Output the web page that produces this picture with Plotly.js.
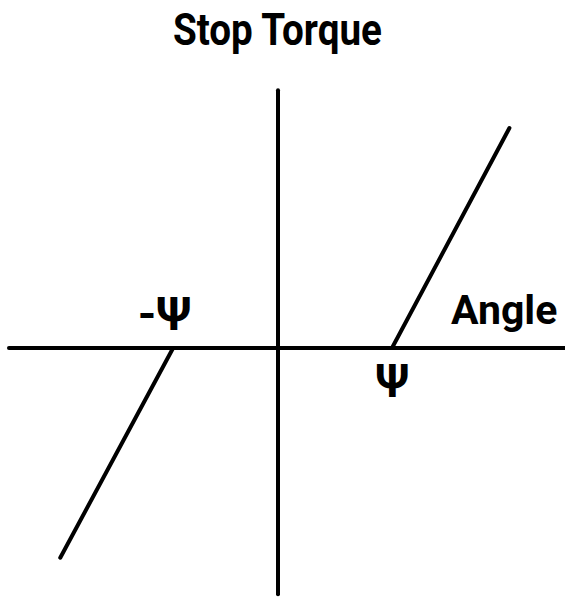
<!DOCTYPE html>
<html>
<head>
<meta charset="utf-8">
<script src="https://cdn.plot.ly/plotly-3.0.1.min.js"></script>
<style>
html,body{margin:0;padding:0;background:#fff;}
#chart{width:565px;height:599px;}
.scatterlayer path.js-line{stroke-linecap:round !important;}
</style>
</head>
<body>
<div id="chart"></div>
<script>
// Stop torque characteristic (angle units: 1 = Psi, torque in same scale)
const posAngle = [1.0, 2.03];
const posTorque = [0.0, 1.93];
const negAngle = [-0.92, -1.91];
const negTorque = [0.0, -1.84];
const angleAxisX = [-2.36, 2.55];
const angleAxisY = [0, 0];
const torqueAxisX = [0, 0];
const torqueAxisY = [-2.16, 2.26];
const labels = ["Stop Torque", "Angle", "-Ψ", "Ψ"];

const FONT = 'Roboto, "DejaVu Sans Condensed", sans-serif';
const lineStyle = {color: '#000', width: 4};

// target rendered widths of the wider labels (px)
const labelWidths = {"Stop Torque": 209, "-Ψ": 53, "Ψ": 33};

const traces = [
  {x: angleAxisX, y: angleAxisY, mode: 'lines', line: lineStyle, hoverinfo: 'skip'},
  {x: torqueAxisX, y: torqueAxisY, mode: 'lines', line: lineStyle, hoverinfo: 'skip'},
  {x: posAngle, y: posTorque, mode: 'lines', line: lineStyle, hoverinfo: 'skip'},
  {x: negAngle, y: negTorque, mode: 'lines', line: lineStyle, hoverinfo: 'skip'}
];

const layout = {
  width: 565, height: 599,
  margin: {l: 0, r: 0, t: 0, b: 0},
  paper_bgcolor: '#fff', plot_bgcolor: '#fff',
  showlegend: false,
  xaxis: {range: [-2.4386, 2.5175], visible: false, fixedrange: true},
  yaxis: {range: [-2.2018, 3.0526], visible: false, fixedrange: true},
  title: {
    text: labels[0], x: 0.491, xanchor: 'center', y: 0.95, yanchor: 'middle',
    font: {family: FONT, size: 44, color: '#000', weight: 'bold'}
  },
  annotations: [
    {x: 1.985, y: 0.33, text: labels[1], showarrow: false, xanchor: 'center', yanchor: 'middle',
     borderpad: 0,
     font: {family: FONT, size: 41, color: '#000', weight: 'bold'}},
    {x: -1.0, y: 0.30, text: labels[2], showarrow: false, xanchor: 'center', yanchor: 'middle',
     borderpad: 0,
     font: {family: FONT, size: 47, color: '#000', weight: 'bold'}},
    {x: 1.0, y: -0.285, text: labels[3], showarrow: false, xanchor: 'center', yanchor: 'middle',
     borderpad: 0,
     font: {family: FONT, size: 47, color: '#000', weight: 'bold'}}
  ]
};

Plotly.newPlot('chart', traces, layout, {displayModeBar: false, staticPlot: true}).then(function (gd) {
  const nodes = gd.querySelectorAll('text.gtitle, text.annotation-text');
  nodes.forEach(function (t) {
    const w = labelWidths[t.textContent];
    if (w) {
      t.setAttribute('textLength', w);
      t.setAttribute('lengthAdjust', 'spacingAndGlyphs');
    }
  });
});
</script>
</body>
</html>
